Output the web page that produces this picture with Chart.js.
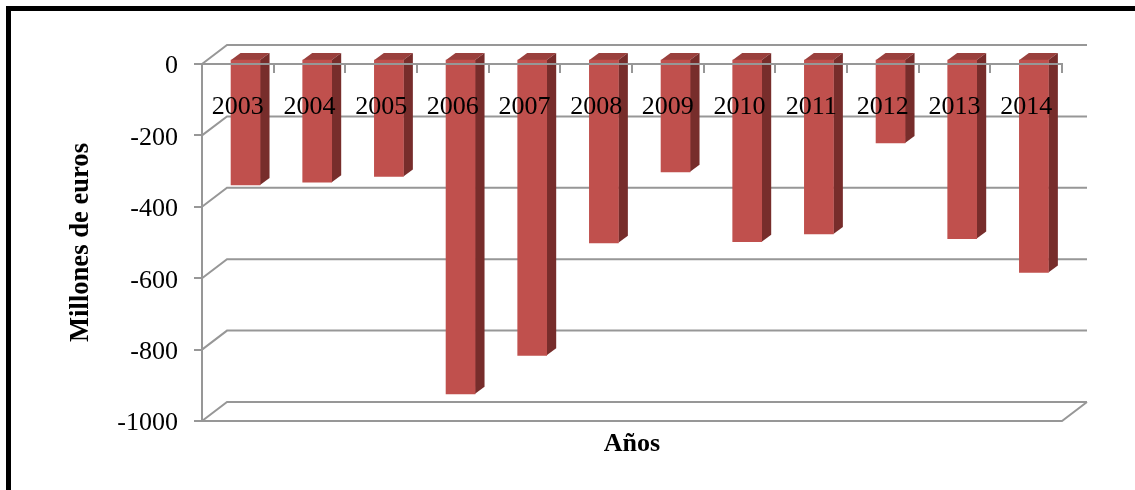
<!DOCTYPE html>
<html>
<head>
<meta charset="utf-8">
<script src="https://cdn.jsdelivr.net/npm/chart.js@4"></script>
<style>
  html, body { margin: 0; padding: 0; background: #fff; }
  #frame { position: absolute; left: 6px; top: 6px; width: 1129px; height: 484px;
           border-left: 5px solid #000; border-top: 5px solid #000; box-sizing: border-box; }
  canvas { position: absolute; left: 0; top: 0; }
</style>
</head>
<body>
<div id="frame"></div>
<canvas id="chart" width="1135" height="490"></canvas>
<script>
const years = ['2003','2004','2005','2006','2007','2008','2009','2010','2011','2012','2013','2014'];
const balance = [-353,-345,-329,-938,-830,-515,-316,-512,-490,-235,-503,-598];
const yTicks = [0,-200,-400,-600,-800,-1000];

const FONT = '"Liberation Serif", "Times New Roman", serif';
const GRID = '#979797';
const FACE = '#C0504D';
const SIDE = '#772D2B';
const TOP = '#9A403D';

// Perspective offsets of the oblique box and of the bars inside it
const wallDX = 25, wallDY = -19;
const barDX = 7.7, barDY = -5;
const sideDX = 9.5, sideDY = -7;

const box3d = {
  id: 'box3d',
  beforeDatasetsDraw(chart) {
    const { ctx, chartArea: a, scales: { y } } = chart;
    ctx.save();
    ctx.strokeStyle = GRID;
    ctx.lineWidth = 2;
    ctx.beginPath();
    yTicks.forEach(v => {
      const py = y.getPixelForValue(v);
      ctx.moveTo(a.left, py);
      ctx.lineTo(a.left + wallDX, py + wallDY);
      ctx.lineTo(a.right + wallDX, py + wallDY);
    });
    // Floor front edge and right edge
    ctx.moveTo(a.left, a.bottom);
    ctx.lineTo(a.right, a.bottom);
    ctx.lineTo(a.right + wallDX, a.bottom + wallDY);
    ctx.stroke();
    ctx.restore();
  },
  beforeDatasetDraw(chart) {
    const ctx = chart.ctx;
    ctx.save();
    ctx.translate(barDX, barDY);
    chart.getDatasetMeta(0).data.forEach(bar => {
      const l = bar.x - bar.width / 2, r = bar.x + bar.width / 2;
      const t = Math.min(bar.y, bar.base), b = Math.max(bar.y, bar.base);
      ctx.fillStyle = TOP;
      ctx.beginPath();
      ctx.moveTo(l, t);
      ctx.lineTo(l + sideDX, t + sideDY);
      ctx.lineTo(r + sideDX, t + sideDY);
      ctx.lineTo(r, t);
      ctx.closePath();
      ctx.fill();
      ctx.fillStyle = SIDE;
      ctx.beginPath();
      ctx.moveTo(r, t);
      ctx.lineTo(r + sideDX, t + sideDY);
      ctx.lineTo(r + sideDX, b + sideDY);
      ctx.lineTo(r, b);
      ctx.closePath();
      ctx.fill();
    });
  },
  afterDatasetDraw(chart) {
    chart.ctx.restore();
  }
};

new Chart(document.getElementById('chart'), {
  type: 'bar',
  data: {
    labels: years,
    datasets: [{
      data: balance,
      backgroundColor: FACE,
      barThickness: 29,
      xAxisID: 'x',
      yAxisID: 'y'
    }]
  },
  options: {
    responsive: false,
    animation: false,
    events: [],
    clip: false,
    layout: { padding: { left: 0, top: 64, right: 73, bottom: 0 } },
    plugins: { legend: { display: false }, tooltip: { enabled: false } },
    scales: {
      x: {
        position: { y: 0 },
        offset: true,
        grid: {
          display: true, drawOnChartArea: false, drawTicks: true,
          tickLength: 8, color: GRID, lineWidth: 2, offset: true, z: 2
        },
        border: { display: true, color: GRID, width: 2, z: 2 },
        ticks: {
          color: '#000', font: { family: FONT, size: 26 },
          padding: 20, maxRotation: 0, autoSkip: false, z: 3
        }
      },
      caption: {
        type: 'category',
        axis: 'x',
        position: 'bottom',
        labels: years,
        grid: { display: false, drawTicks: false },
        border: { display: false },
        ticks: { display: false },
        title: {
          display: true, text: 'Años', color: '#000',
          font: { family: FONT, size: 26, weight: 'bold' },
          padding: { top: 8, bottom: 30 }
        },
        afterFit(s) { s.height = 69; }
      },
      y: {
        min: -1000,
        max: 0,
        grid: {
          drawOnChartArea: false, drawTicks: true, tickLength: 8,
          color: GRID, lineWidth: 2
        },
        border: { display: true, color: GRID, width: 2 },
        ticks: {
          color: '#000', font: { family: FONT, size: 26 }, padding: 16,
          stepSize: 200, labelOffset: 2.5,
          callback: v => String(v)
        },
        title: {
          display: true, text: 'Millones de euros', color: '#000',
          font: { family: FONT, size: 26.6, weight: 'bold' },
          padding: { top: 65, bottom: 0 }
        },
        afterFit(s) { s.width = 202; }
      }
    }
  },
  plugins: [box3d]
});
</script>
</body>
</html>
